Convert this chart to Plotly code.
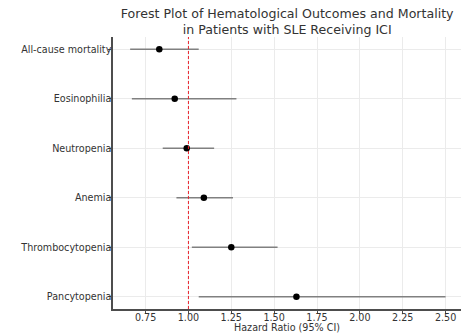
import plotly.graph_objects as go

outcomes = ["All-cause mortality", "Eosinophilia", "Neutropenia", "Anemia",
            "Thrombocytopenia", "Pancytopenia"]
hazard_ratio = [0.83, 0.92, 0.99, 1.09, 1.25, 1.63]
ci_lower = [0.66, 0.67, 0.85, 0.93, 1.02, 1.06]
ci_upper = [1.06, 1.28, 1.15, 1.26, 1.52, 2.50]
reference_hr = 1.0
x_ticks = [0.75, 1.00, 1.25, 1.50, 1.75, 2.00, 2.25, 2.50]

err_plus = [u - h for u, h in zip(ci_upper, hazard_ratio)]
err_minus = [h - l for h, l in zip(hazard_ratio, ci_lower)]

fig = go.Figure()
fig.add_trace(go.Scatter(
    x=hazard_ratio, y=outcomes, mode="markers",
    marker=dict(color="black", size=6.5),
    error_x=dict(type="data", symmetric=False, array=err_plus,
                 arrayminus=err_minus, color="#808080", thickness=1.5, width=0),
    showlegend=False,
))
fig.add_shape(type="line", x0=reference_hr, x1=reference_hr, xref="x",
              y0=0, y1=1, yref="paper",
              line=dict(color="#e8202a", width=1, dash="3px,2px"))
fig.add_annotation(text="Hazard Ratio (95% CI)", xref="paper", x=0.5,
                   yref="paper", y=-18 / 272, yanchor="middle",
                   showarrow=False,
                   font=dict(family="DejaVu Sans, sans-serif", size=9.6,
                             color="#333333"))

font = "DejaVu Sans, sans-serif"
fig.update_layout(
    width=461, height=336,
    margin=dict(l=113, r=0, t=37, b=27, autoexpand=False),
    paper_bgcolor="white", plot_bgcolor="white",
    font=dict(family=font, size=9.6, color="#333333"),
    title=dict(text="Forest Plot of Hematological Outcomes and Mortality<br>in Patients with SLE Receiving ICI",
               x=0.623, xanchor="center", xref="container",
               y=1 - 18 / 336, yanchor="middle", yref="container",
               font=dict(family=font, size=12.6, color="#333333")),
    xaxis=dict(range=[0.56, 2.59], tickvals=x_ticks,
               ticktext=[f"{v:.2f}" for v in x_ticks],
               showgrid=True, gridcolor="#ebebeb", gridwidth=1,
               showline=True, linecolor="#4d4d4d", linewidth=1.5,
               ticks="outside", ticklen=3, tickcolor="#4d4d4d",
               ticklabelstandoff=-4,
               zeroline=False, automargin=False),
    yaxis=dict(type="category", categoryorder="array",
               categoryarray=outcomes[::-1], range=[-0.25, 5.25],
               showgrid=True, gridcolor="#ebebeb", gridwidth=1,
               showline=True, linecolor="#4d4d4d", linewidth=1.5,
               ticks="outside", ticklen=3, tickcolor="#4d4d4d",
               ticklabelstandoff=-5,
               zeroline=False, automargin=False),
)

fig.write_html("out.html", config={"displayModeBar": False},
               post_script="document.body.style.margin='0';")
